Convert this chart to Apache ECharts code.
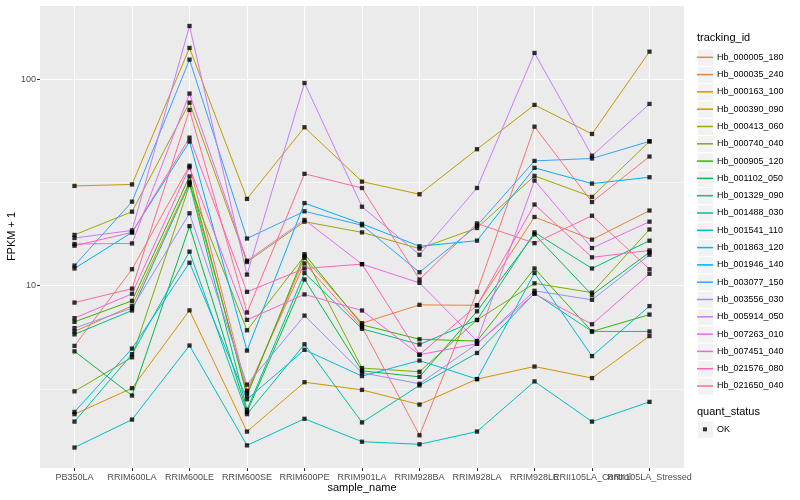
<!DOCTYPE html>
<html>
<head>
<meta charset="utf-8">
<script src="https://cdn.jsdelivr.net/npm/echarts@6/dist/echarts.min.js"></script>
<style>
html,body{margin:0;padding:0;background:#fff;}
#chart{width:800px;height:500px;}
</style>
</head>
<body>
<div id="chart"></div>
<script>
// ---- data ----
const categories = ['PB350LA','RRIM600LA','RRIM600LE','RRIM600SE','RRIM600PE','RRIM901LA','RRIM928BA','RRIM928LA','RRIM928LE','RRII105LA_Control','RRII105LA_Stressed'];

const trackingIds = ['Hb_000005_180','Hb_000035_240','Hb_000163_100','Hb_000390_090','Hb_000413_060','Hb_000740_040','Hb_000905_120','Hb_001102_050','Hb_001329_090','Hb_001488_030','Hb_001541_110','Hb_001863_120','Hb_001946_140','Hb_003077_150','Hb_003556_030','Hb_005914_050','Hb_007263_010','Hb_007451_040','Hb_021576_080','Hb_021650_040'];

const Hb_000005_180 = [5.10, 12.0, 38.1, 3.09, 12.8, 6.29, 1.88, 9.32, 58.9, 25.4, 42.2];
const Hb_000035_240 = [5.99, 7.97, 31.9, 3.01, 13.6, 6.57, 8.06, 8.02, 21.5, 16.7, 23.1];
const Hb_000163_100 = [2.38, 3.18, 7.58, 1.96, 3.40, 3.12, 2.65, 3.52, 4.05, 3.56, 5.69];
const Hb_000390_090 = [30.4, 30.9, 141.8, 26.3, 58.5, 31.9, 27.7, 45.8, 75.1, 54.3, 136.1];
const Hb_000413_060 = [17.6, 22.8, 77.0, 13.0, 20.4, 18.1, 15.1, 19.0, 34.0, 26.9, 50.0];
const Hb_000740_040 = [3.07, 4.49, 30.7, 6.07, 13.9, 3.98, 3.82, 6.81, 10.25, 9.24, 18.7];
const Hb_000905_120 = [6.67, 8.43, 33.8, 2.93, 14.2, 6.45, 5.49, 5.38, 12.1, 5.99, 7.23];
const Hb_001102_050 = [4.80, 2.93, 19.4, 2.44, 10.7, 3.86, 3.61, 7.50, 17.7, 9.0, 14.5];
const Hb_001329_090 = [5.80, 7.57, 31.3, 2.50, 11.5, 6.17, 5.18, 6.81, 18.1, 12.1, 16.5];
const Hb_001488_030 = [2.19, 4.65, 14.6, 2.38, 5.19, 2.17, 3.28, 4.71, 9.17, 5.99, 5.99];
const Hb_001541_110 = [1.64, 2.24, 5.12, 1.68, 2.26, 1.75, 1.70, 1.96, 3.43, 2.19, 2.73];
const Hb_001863_120 = [2.44, 4.95, 12.9, 2.81, 4.88, 3.64, 4.33, 3.52, 11.5, 4.55, 7.95];
const Hb_001946_140 = [12.1, 18.1, 49.9, 4.84, 25.1, 19.9, 15.5, 16.5, 37.2, 31.2, 33.5];
const Hb_003077_150 = [12.5, 25.5, 124.5, 16.9, 22.9, 19.6, 11.6, 19.5, 40.2, 41.3, 50.0];
const Hb_003556_030 = [6.22, 7.77, 22.4, 3.31, 7.15, 3.78, 3.34, 5.22, 9.43, 8.53, 14.1];
const Hb_005914_050 = [17.0, 18.5, 181.2, 11.3, 95.9, 24.1, 14.1, 29.7, 134.1, 42.6, 75.9];
const Hb_007263_010 = [15.9, 16.0, 85.2, 13.2, 20.8, 12.7, 10.3, 5.38, 32.3, 15.2, 20.4];
const Hb_007451_040 = [6.95, 9.12, 37.4, 6.82, 9.06, 7.57, 4.62, 5.22, 9.12, 6.49, 11.4];
const Hb_021576_080 = [15.6, 18.1, 52.1, 9.32, 12.1, 12.7, 4.62, 8.02, 24.7, 13.7, 14.8];
const Hb_021650_040 = [8.27, 9.66, 71.0, 7.40, 34.8, 29.7, 10.7, 20.0, 16.05, 21.8, 12.0];

const seriesValues = [Hb_000005_180, Hb_000035_240, Hb_000163_100, Hb_000390_090, Hb_000413_060, Hb_000740_040, Hb_000905_120, Hb_001102_050, Hb_001329_090, Hb_001488_030, Hb_001541_110, Hb_001863_120, Hb_001946_140, Hb_003077_150, Hb_003556_030, Hb_005914_050, Hb_007263_010, Hb_007451_040, Hb_021576_080, Hb_021650_040];

const colors = ['#F8766D','#EA8331','#D89000','#C09B00','#A3A500','#7CAE00','#39B600','#00BB4E','#00BF7D','#00C1A3','#00BFC4','#00BAE0','#00B0F6','#35A2FF','#9590FF','#C77CFF','#E76BF3','#FA62DB','#FF62BC','#FF6C91'];

const yMajorTicks = [10, 100];
const yMinorBreaks = [3.1623, 31.623];
const quantStatus = ['OK'];

// ---- chart ----
const FONT = '"Liberation Sans", Arial, sans-serif';
const chart = echarts.init(document.getElementById('chart'), null, {renderer: 'canvas'});

const lineSeries = trackingIds.map((id, k) => ({
  type: 'line',
  name: id,
  data: seriesValues[k].map((v, i) => [i, v]),
  symbol: 'none',
  lineStyle: {width: 1, color: colors[k]},
  itemStyle: {color: colors[k]},
  z: 2,
  silent: true,
  animation: false
}));

const pointData = [];
seriesValues.forEach(vals => vals.forEach((v, i) => pointData.push([i, v])));

const keyBoxes = [];
for (let i = 0; i < trackingIds.length; i++) {
  keyBoxes.push({type: 'rect', left: 697, top: 48.6 + 17.3 * i,
    shape: {width: 16, height: 17.3},
    style: {fill: '#F2F2F2', stroke: '#FFFFFF', lineWidth: 1}});
}
keyBoxes.push({type: 'rect', left: 697, top: 420.6,
  shape: {width: 16, height: 17.3},
  style: {fill: '#F2F2F2', stroke: '#FFFFFF', lineWidth: 1}});

// label positions split over two axes so that overlapping neighbours are all drawn (as ggplot does)
const catIdx = categories.map((c, i) => i);
const labelSetA = catIdx.filter(i => i !== 9);
const labelSetB = [9];
const xLabelStyle = {fontSize: 9, color: '#4D4D4D', margin: 5, hideOverlap: false, showMinLabel: true, showMaxLabel: true, fontFamily: FONT,
  formatter: v => categories[Math.round(v)] || ''};

const option = {
  animation: false,
  backgroundColor: '#FFFFFF',
  textStyle: {fontFamily: FONT},
  grid: {left: 40, top: 5, width: 644, height: 463, show: true, backgroundColor: '#EBEBEB', borderWidth: 0, containLabel: false, outerBoundsMode: 'none'},
  title: [
    {text: 'tracking_id', left: 697, top: 32, padding: 0, textStyle: {fontSize: 11, fontWeight: 'normal', color: '#000', fontFamily: FONT}},
    {text: 'quant_status', left: 697, top: 406, padding: 0, textStyle: {fontSize: 11, fontWeight: 'normal', color: '#000', fontFamily: FONT}}
  ],
  graphic: keyBoxes,
  legend: [
    {data: trackingIds, orient: 'vertical', left: 697, top: 50.3, padding: 0,
     itemWidth: 16, itemHeight: 14, itemGap: 3.3, selectedMode: false,
     icon: 'path://M0,0M16,14M0,6.25h16v1.5h-16z',
     textStyle: {fontSize: 9, color: '#000', fontFamily: FONT, padding: [0,0,0,-1]}},
    {data: quantStatus, orient: 'vertical', left: 697, top: 422.3, padding: 0,
     itemWidth: 16, itemHeight: 14, selectedMode: false,
     icon: 'path://M0,0M16,14M6,5h4v4h-4z',
     textStyle: {fontSize: 9, color: '#000', fontFamily: FONT, padding: [0,0,0,-1]}}
  ],
  xAxis: [{
    type: 'value', min: -0.6, max: 10.6, position: 'bottom',
    name: 'sample_name', nameLocation: 'middle', nameGap: 14, nameMoveOverlap: false,
    nameTextStyle: {fontSize: 11, color: '#000', fontFamily: FONT},
    axisLine: {show: false, onZero: false},
    axisTick: {show: true, length: 3, lineStyle: {color: '#333333', width: 1}, customValues: catIdx},
    axisLabel: Object.assign({customValues: labelSetA}, xLabelStyle),
    splitLine: {show: true, lineStyle: {color: '#FFFFFF', width: 1.1}}
  }, {
    type: 'value', min: -0.6, max: 10.6, position: 'bottom', offset: 0,
    axisLine: {show: false, onZero: false},
    axisTick: {show: false},
    axisLabel: Object.assign({customValues: labelSetB}, xLabelStyle),
    splitLine: {show: false}
  }],
  yAxis: {
    type: 'log', logBase: 10, min: 1.305, max: 229,
    name: 'FPKM + 1', nameLocation: 'middle', nameGap: 23, nameRotate: 90, nameMoveOverlap: false,
    nameTextStyle: {fontSize: 11, color: '#000', fontFamily: FONT},
    axisLine: {show: false, onZero: false},
    axisTick: {show: true, length: 3, lineStyle: {color: '#333333', width: 1}},
    axisLabel: {fontSize: 9, color: '#4D4D4D', margin: 4, showMinLabel: false, showMaxLabel: false, fontFamily: FONT,
      formatter: v => (yMajorTicks.indexOf(Math.round(v)) >= 0 ? String(Math.round(v)) : '')},
    splitLine: {show: true, lineStyle: {color: '#FFFFFF', width: 1.1}}
  },
  series: [
    {type: 'line', name: '_minor', data: [], z: 1, silent: true,
     markLine: {silent: true, symbol: ['none', 'none'], z: 1, animation: false, label: {show: false},
       lineStyle: {color: '#FFFFFF', width: 0.55, type: 'solid'},
       emphasis: {disabled: true},
       data: yMinorBreaks.map(v => ({yAxis: v}))}}
  ].concat(lineSeries).concat([
    {type: 'scatter', name: 'OK', data: pointData, symbol: 'rect', symbolSize: 4.3,
     itemStyle: {color: '#000000'}, z: 3, silent: true, animation: false}
  ])
};
chart.setOption(option);
</script>
</body>
</html>
